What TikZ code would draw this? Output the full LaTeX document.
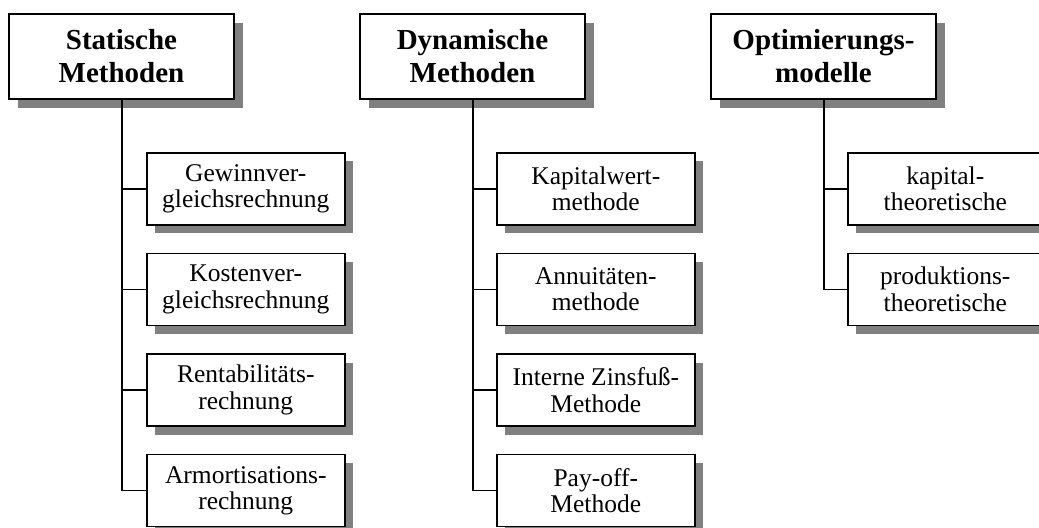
\documentclass[tikz,border=0pt]{standalone}
\usepackage{fontspec}
\setmainfont{Liberation Serif}
\usetikzlibrary{positioning}
\usetikzlibrary{shadows}

\definecolor{shadowgray}{RGB}{128,128,128}

\begin{document}
\begin{tikzpicture}[
			head/.style={draw, line width=1pt, fill=white, rectangle, minimum width=112.5pt, minimum height=42.5pt, align=center, inner sep=2pt,
				font=\fontsize{14.5}{16.5}\selectfont\bfseries,
				drop shadow={shadow xshift=4.25pt, shadow yshift=-4.25pt, fill=shadowgray, opacity=1}},
			item/.style={draw, line width=0.8pt, fill=white, rectangle, minimum width=99pt, minimum height=36pt, align=center, inner sep=2pt,
				font=\fontsize{12.75}{13.25}\selectfont,
				drop shadow={shadow xshift=4.25pt, shadow yshift=-4.25pt, fill=shadowgray, opacity=1}},
			trunk/.style={line width=1pt},
			branch/.style={line width=0.7pt}
			]
			\useasboundingbox (0,0) rectangle (519.5pt,-263.5pt);
			
			% Top level
			\node[head, anchor=north west] (statisch) at (4pt,-6.5pt) {Statische\\Methoden};
			\node[head, right=62pt of statisch] (dynamisch) {Dynamische\\Methoden};
			\node[head, right=62pt of dynamisch] (optimierung) {Optimierungs-\\modelle};
			
			% Statische Methoden
			\node[item, below right=26pt and 69pt of statisch.south west] (gewinn) {Gewinnver-\\gleichsrechnung};
			\node[item, below=13.5pt of gewinn] (kosten) {Kostenver-\\gleichsrechnung};
			\node[item, below=13.5pt of kosten] (rentab) {Rentabilitäts-\\rechnung};
			\node[item, below=13.5pt of rentab] (amort) {Armortisations-\\rechnung};
			
			% Dynamische Methoden
			\node[item, below right=26pt and 68.5pt of dynamisch.south west] (kapwert) {Kapitalwert-\\methode};
			\node[item, below=13.5pt of kapwert] (annuitaet) {Annuitäten-\\methode};
			\node[item, below=13.5pt of annuitaet] (zinsfuss) {Interne Zinsfuß-\\Methode};
			\node[item, below=13.5pt of zinsfuss] (payoff) {Pay-off-\\Methode};
			
			% Optimierungsmodelle
			\node[item, minimum width=97.5pt, below right=26pt and 68.5pt of optimierung.south west] (kapital) {kapital-\\theoretische};
			\node[item, minimum width=97.5pt, below=13.5pt of kapital] (produktion) {produktions-\\theoretische};
			
			% Lines
			\draw[branch] (statisch.south) |- (gewinn.west);
			\draw[branch] (statisch.south) |- (kosten.west);
			\draw[branch] (statisch.south) |- (rentab.west);
			\draw[branch] (statisch.south) |- (amort.west);
			\draw[trunk] (statisch.south) -- (statisch.south |- amort.west);
			
			\draw[branch] (dynamisch.south) |- (kapwert.west);
			\draw[branch] (dynamisch.south) |- (annuitaet.west);
			\draw[branch] (dynamisch.south) |- (zinsfuss.west);
			\draw[branch] (dynamisch.south) |- (payoff.west);
			\draw[trunk] (dynamisch.south) -- (dynamisch.south |- payoff.west);
			
			\draw[branch] (optimierung.south) |- (kapital.west);
			\draw[branch] (optimierung.south) |- (produktion.west);
			\draw[trunk] (optimierung.south) -- (optimierung.south |- produktion.west);
		\end{tikzpicture}
\end{document}
